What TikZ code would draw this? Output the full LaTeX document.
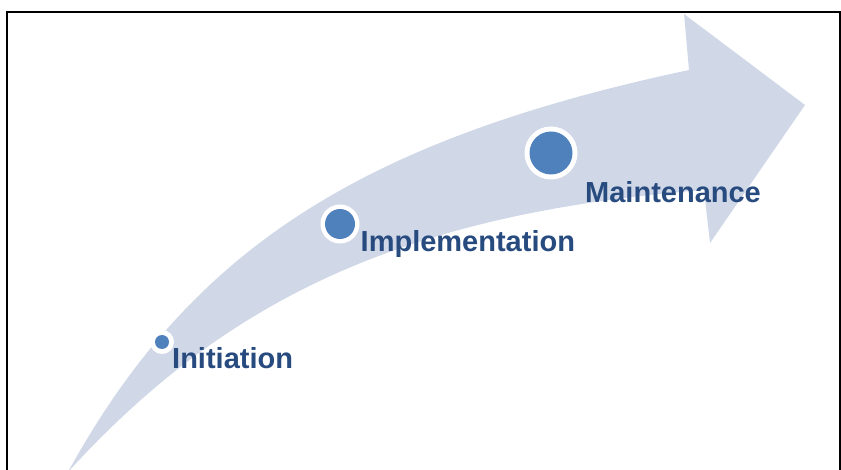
\documentclass[tikz,border=0pt]{standalone}
\usepackage{fontspec}
\setmainfont{Liberation Sans}
\definecolor{band}{HTML}{D0D8E8}
\definecolor{dot}{HTML}{4F81BD}
\definecolor{label}{HTML}{274A7F}
\begin{document}
\begin{tikzpicture}[x=1bp,y=-1bp,
  stage/.style={anchor=base west, inner sep=0pt, text=label, font=\bfseries\fontsize{29bp}{35bp}\selectfont},
  ring/.style={circle, fill=white, inner sep=0pt},
  dotc/.style={circle, fill=dot, inner sep=0pt}]
\useasboundingbox (0,0) rectangle (841,470);
\clip (0,0) rectangle (841,470);
\draw[line width=2bp] (7,480) -- (7,12.5) -- (839.5,12.5) -- (839.5,480);
\fill[band] (68,472) .. controls (190,250) and (360,140) .. (689,70)
  -- (684,14) -- (805,105) -- (710,243) -- (704,190)
  .. controls (392,214) and (218.5,307.5) .. (68,472) -- cycle;
\node[ring, minimum size=24bp] (c1) at (162,342) {};
\node[dotc, minimum size=14bp] (c1in) at (c1.center) {};
\node[ring, minimum size=39bp] (c2) at (340,224) {};
\node[dotc, minimum size=30bp] (c2in) at (c2.center) {};
\node[ring, minimum size=53bp] (c3) at (551,153) {};
\node[dotc, minimum size=43bp] (c3in) at (c3.center) {};
\node[stage] (t1) at (172,369) {Initiation};
\node[stage] (t2) at (360.5,251.7) {Implementation};
\node[stage] (t3) at (585,203) {Maintenance};
\end{tikzpicture}
\end{document}
